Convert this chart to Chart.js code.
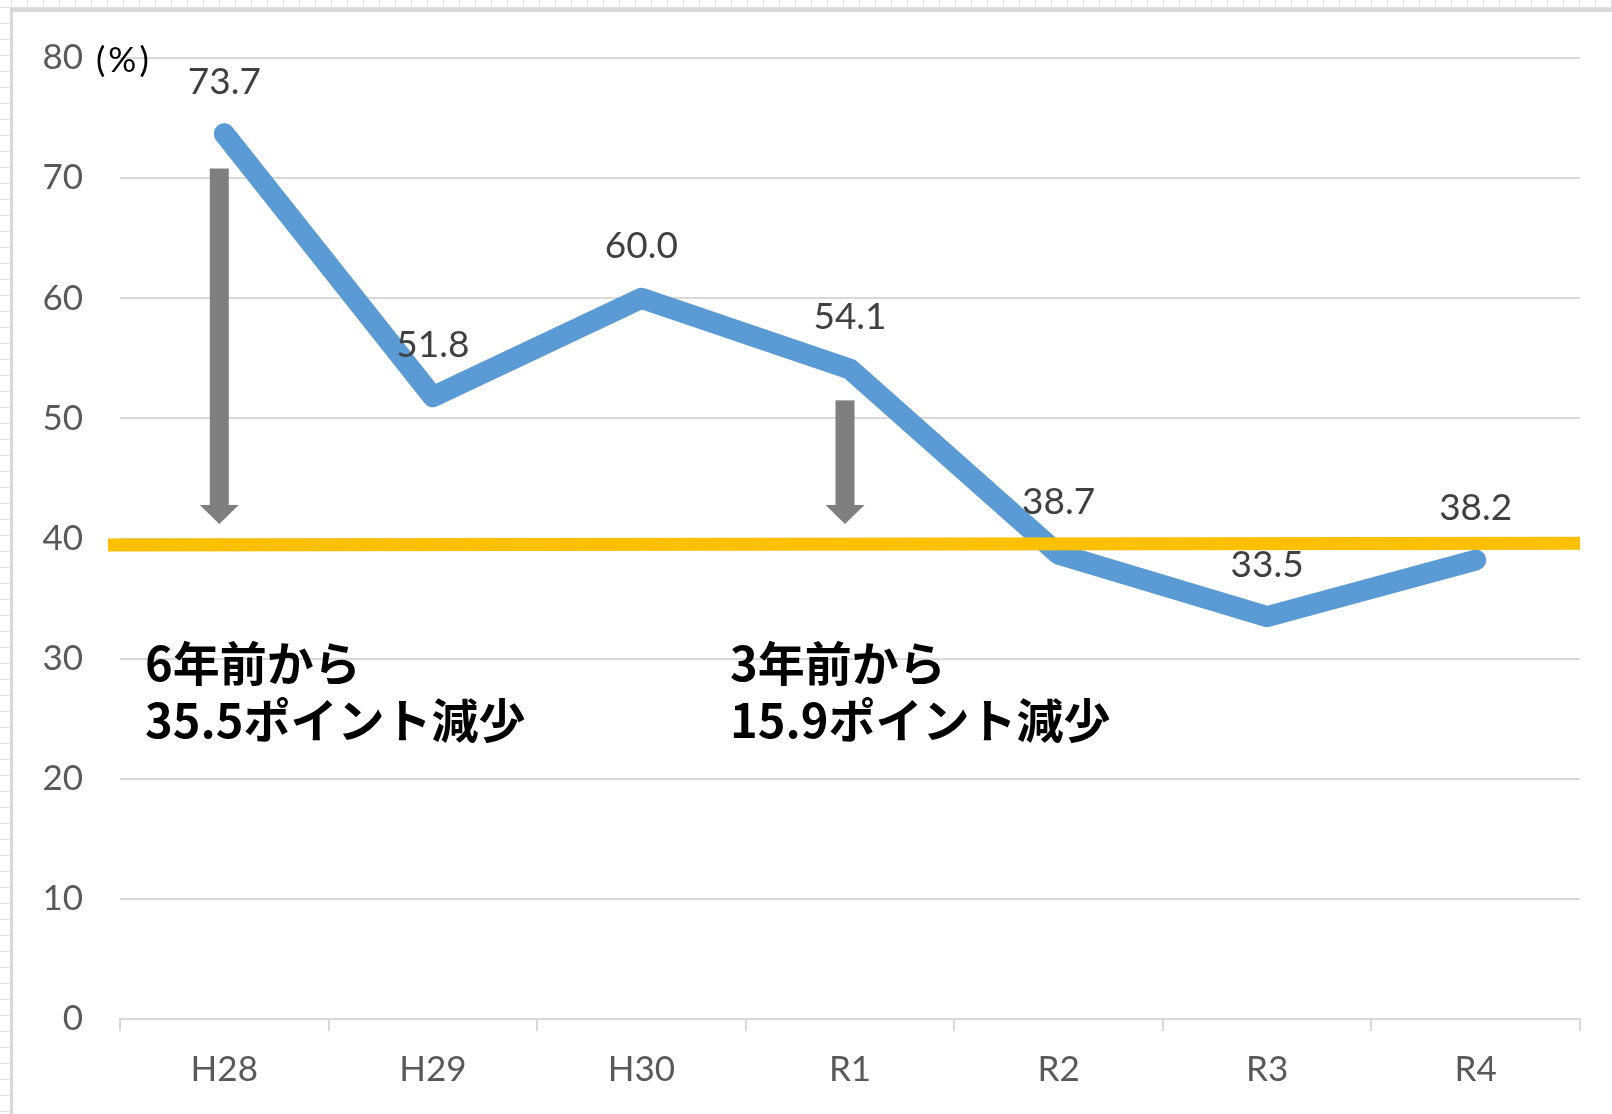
<!DOCTYPE html>
<html lang="ja">
<head>
<meta charset="utf-8">
<title>推移</title>
<script src="https://cdn.jsdelivr.net/npm/chart.js@4/dist/chart.umd.min.js"></script>
<style>
    html, body {
        margin: 0;
        padding: 0;
        width: 1612px;
        height: 1114px;
        overflow: hidden;
        background-color: #ffffff;
        background-image:
            linear-gradient(to right, #e2e2e2 1px, transparent 1px),
            linear-gradient(to bottom, #e2e2e2 1px, transparent 1px);
        background-size: 16px 16px;
        background-position: 11px 7px;
    }
    #frame {
        position: absolute;
        left: 10px;
        top: 8px;
        width: 1602px;
        height: 1106px;
        background: #ffffff;
        border-left: 3px solid #d9d9d9;
        border-top: 4px solid #d9d9d9;
    }
    canvas {
        display: block;
    }
</style>
</head>
<body>
<div id="frame">
    <canvas id="rateChart" width="1599" height="1102"></canvas>
</div>
<script>
    const years = ['H28', 'H29', 'H30', 'R1', 'R2', 'R3', 'R4'];
    const rates = [73.7, 51.8, 60.0, 54.1, 38.7, 33.5, 38.2];
    const yTicks = [0, 10, 20, 30, 40, 50, 60, 70, 80];

    // reference band drawn across the plot (start value, end value)
    const baseline = [39.45, 39.6];

    // downward arrows: category, top value, tip value
    const arrowFrom = ['H28', 'R1'];
    const arrowTop = [70.8, 51.5];
    const arrowTip = [41.2, 41.2];

    // text notes: category position (index), value of first line
    const noteLines = [
        ['6年前から', '35.5ポイント減少'],
        ['3年前から', '15.9ポイント減少']
    ];
    const noteAt = [-0.38, 2.425];
    const noteValue = [29.6, 29.6];

    const unitLabel = '(%)';

    const overlay = {
        id: 'overlay',
        afterDatasetsDraw(chart) {
            const ctx = chart.ctx;
            const xs = chart.scales.x;
            const ys = chart.scales.y;
            const area = chart.chartArea;
            ctx.save();

            // yellow band
            ctx.strokeStyle = '#FFC000';
            ctx.lineWidth = 13;
            ctx.lineCap = 'butt';
            ctx.beginPath();
            ctx.moveTo(area.left - 12, ys.getPixelForValue(baseline[0]));
            ctx.lineTo(area.right, ys.getPixelForValue(baseline[1]));
            ctx.stroke();

            // arrows
            ctx.fillStyle = '#7F7F7F';
            arrowFrom.forEach((cat, i) => {
                const cx = xs.getPixelForValue(years.indexOf(cat)) - 5;
                const top = ys.getPixelForValue(arrowTop[i]);
                const tip = ys.getPixelForValue(arrowTip[i]);
                const headH = 19;
                ctx.fillRect(cx - 9.5, top, 19, tip - headH - top);
                ctx.beginPath();
                ctx.moveTo(cx - 19.5, tip - headH);
                ctx.lineTo(cx + 19.5, tip - headH);
                ctx.lineTo(cx, tip);
                ctx.closePath();
                ctx.fill();
            });

            // value labels
            ctx.font = '37px Lato';
            ctx.fillStyle = '#404040';
            ctx.textAlign = 'center';
            ctx.textBaseline = 'middle';
            const meta = chart.getDatasetMeta(0);
            meta.data.forEach((pt, i) => {
                ctx.fillText(rates[i].toFixed(1), pt.x, pt.y - 52);
            });

            // unit
            ctx.font = '35px Lato';
            ctx.fillStyle = '#000000';
            ctx.textAlign = 'left';
            ctx.letterSpacing = '3px';
            ctx.fillText(unitLabel, area.left - 24, ys.getPixelForValue(80) + 3);
            ctx.letterSpacing = '0px';

            // notes
            ctx.font = 'bold 47px "Noto Sans CJK JP"';
            ctx.fillStyle = '#000000';
            noteLines.forEach((lines, i) => {
                const x = xs.getPixelForValue(noteAt[i]);
                const y = ys.getPixelForValue(noteValue[i]);
                lines.forEach((line, j) => {
                    ctx.fillText(line, x, y + j * 57);
                });
            });

            ctx.restore();
        }
    };

    const ctx = document.getElementById('rateChart').getContext('2d');
    const chart = new Chart(ctx, {
        type: 'line',
        data: {
            labels: years,
            datasets: [{
                data: rates,
                borderColor: '#5B9BD5',
                borderWidth: 21,
                borderCapStyle: 'round',
                borderJoinStyle: 'round',
                pointRadius: 0,
                pointHoverRadius: 0,
                tension: 0,
                fill: false
            }]
        },
        options: {
            responsive: false,
            animation: false,
            devicePixelRatio: 1,
            layout: {
                padding: { top: 46, right: 32, left: 0, bottom: 0 }
            },
            plugins: {
                legend: { display: false },
                tooltip: { enabled: false }
            },
            scales: {
                x: {
                    offset: true,
                    grid: {
                        offset: true,
                        drawOnChartArea: false,
                        drawTicks: true,
                        tickLength: 12,
                        color: '#D9D9D9',
                        lineWidth: 2
                    },
                    border: { color: '#D9D9D9', width: 2 },
                    ticks: {
                        color: '#595959',
                        font: { family: 'Lato', size: 35 },
                        padding: 18,
                        maxRotation: 0
                    },
                    afterFit(scale) { scale.height = 95; }
                },
                y: {
                    min: 0,
                    max: 80,
                    afterBuildTicks(scale) {
                        scale.ticks = yTicks.map(v => ({ value: v }));
                    },
                    grid: {
                        color: '#D9D9D9',
                        lineWidth: 2,
                        drawTicks: false
                    },
                    border: { display: false },
                    ticks: {
                        color: '#595959',
                        font: { family: 'Lato', size: 35 },
                        padding: 37
                    },
                    afterFit(scale) {
                        scale.width = 107;
                        // tick padding would otherwise push the plot top down
                        scale.paddingTop = 0;
                        scale.paddingBottom = 0;
                    }
                }
            }
        },
        plugins: [overlay]
    });
</script>
</body>
</html>
